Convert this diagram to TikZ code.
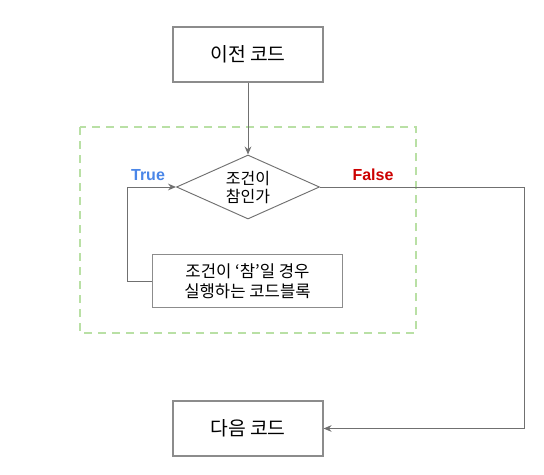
\documentclass[tikz,border=0pt]{standalone}
\usepackage{fontspec}
\setmainfont{Noto Sans CJK KR}
\newfontfamily\labelfont{Liberation Sans}
\usetikzlibrary{arrows.meta,shapes.geometric}
\definecolor{linegray}{HTML}{707070}
\definecolor{boxgray}{HTML}{8C8C8C}
\definecolor{dashgreen}{HTML}{B9E0A5}
\definecolor{truecol}{HTML}{4A86E8}
\definecolor{falsecol}{HTML}{CC0000}
\tikzset{
  codebox/.style={draw=boxgray, line width=0.9pt, minimum width=112.5pt, minimum height=41.25pt, inner sep=0pt, align=center, font=\fontsize{14.5}{17}\selectfont},
  blockbox/.style={draw=boxgray, line width=0.9pt, minimum width=143pt, minimum height=40pt, inner sep=0pt, align=center, font=\fontsize{12.5}{15}\selectfont},
  decision/.style={draw=linegray, line width=0.7pt, diamond, aspect=2.23, minimum width=107pt, minimum height=48pt, inner sep=0pt, align=center, font=\fontsize{12}{13.5}\selectfont},
  flow/.style={draw=linegray, line width=0.7pt, -{Stealth[length=6pt,width=5pt,inset=2pt]}},
  condlabel/.style={font=\labelfont\bfseries\fontsize{12}{14}\selectfont}
}
\begin{document}
\begin{tikzpicture}[x=0.75pt,y=-0.75pt]
\useasboundingbox (0,0) rectangle (544,475);
\fill[white] (0,0) rectangle (544,475);
\draw[dashgreen, line width=1.2pt, dash pattern=on 6pt off 4.5pt] (80,127) rectangle (416,333);
\node[codebox] (prev) at (248,54.5) {이전 코드};
\node[decision, minimum width=107.25pt, minimum height=48pt, shape aspect=2.23] (cond) at (248,187) {조건이\\참인가};
\node[blockbox] (block) at (247.5,281) {조건이 ‘참’일 경우\\실행하는 코드블록};
\node[codebox] (next) at (248,428.5) {다음 코드};
\coordinate (lefttop) at (127,187);
\coordinate (leftbot) at (127,281);
\coordinate (righttop) at (524,187);
\coordinate (rightbot) at (524,428.5);
\draw[flow] (prev) -- (cond);
\draw[flow] (block.west) -- (leftbot) -- (lefttop) -- (cond.west);
\draw[flow] (cond.east) -- (righttop) -- (rightbot) -- (next.east);
\node[condlabel, text=truecol] (truelbl) at (148,175) {True};
\node[condlabel, text=falsecol] (falselbl) at (373,175) {False};
\end{tikzpicture}
\end{document}
